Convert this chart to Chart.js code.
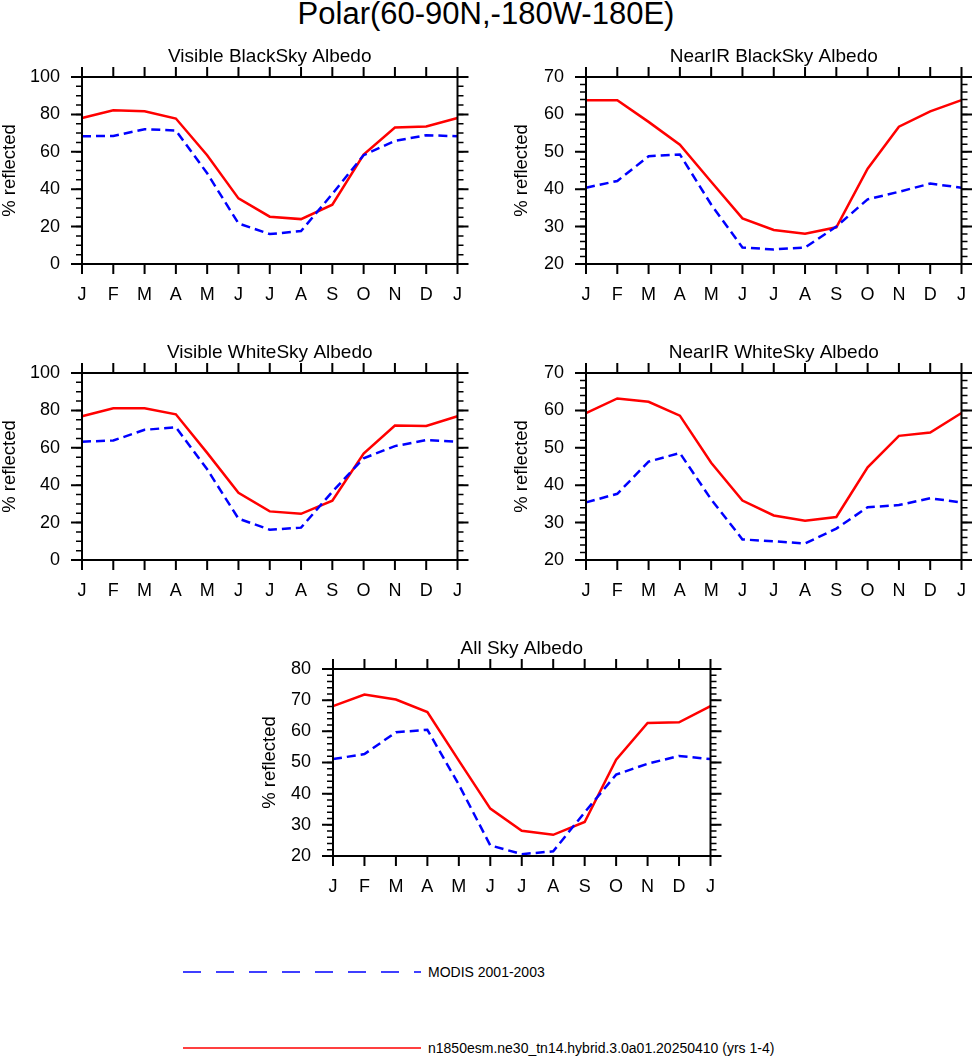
<!DOCTYPE html>
<html>
<head>
<meta charset="utf-8">
<script src="https://cdn.jsdelivr.net/npm/chart.js@4"></script>
<style>
  body { margin: 0; width: 972px; height: 1056px; background: #fff; overflow: hidden; position: relative; font-family: "Liberation Sans", Arial, sans-serif; }
  canvas { position: absolute; }
  .title { position: absolute; left: 0; top: 0; width: 972px; height: 28px; line-height: 28px; text-align: center; font-size: 31px; }
  .leg { position: absolute; left: 183px; font-size: 14px; height: 20px; line-height: 20px; }
  .leg svg { position: absolute; left: 0; top: 0; }
  .leg span { position: absolute; left: 245px; white-space: nowrap; }
</style>
</head>
<body>
<div class="title">Polar(60-90N,-180W-180E)</div>
<canvas id="c1"></canvas>
<canvas id="c2"></canvas>
<canvas id="c3"></canvas>
<canvas id="c4"></canvas>
<canvas id="c5"></canvas>
<div class="leg" style="top:962px">
  <svg width="240" height="20"><line x1="0" y1="10" x2="238" y2="10" stroke="#0000ff" stroke-width="1.5" stroke-dasharray="18,15"/></svg>
  <span>MODIS 2001-2003</span>
</div>
<div class="leg" style="top:1038px">
  <svg width="240" height="20"><line x1="0" y1="10" x2="238" y2="10" stroke="#ff0000" stroke-width="1.5"/></svg>
  <span>n1850esm.ne30_tn14.hybrid.3.0a01.20250410 (yrs 1-4)</span>
</div>
<script>
// months J..D plus January again to close the year
var months = ["J", "F", "M", "A", "M", "J", "J", "A", "S", "O", "N", "D", "J"];

// model (red) and MODIS (blue), % reflected
var visBlackModel = [78.1, 82.2, 81.7, 77.8, 58.2, 35.1, 25.3, 24.0, 31.7, 58.5, 73.0, 73.5, 78.1];
var visBlackObs   = [68.3, 68.5, 72.1, 71.4, 48.5, 21.7, 16.0, 17.6, 37.5, 58.2, 65.8, 68.9, 68.3];

var nirBlackModel = [63.8, 63.8, 58.0, 51.9, 42.0, 32.2, 29.1, 28.1, 29.8, 45.5, 56.7, 60.8, 63.8];
var nirBlackObs   = [40.4, 42.2, 48.8, 49.3, 35.9, 24.4, 23.9, 24.4, 30.0, 37.3, 39.3, 41.5, 40.4];

var visWhiteModel = [76.9, 81.1, 81.1, 77.9, 57.3, 35.9, 26.0, 24.7, 31.7, 56.9, 71.9, 71.7, 76.9];
var visWhiteObs   = [63.3, 63.9, 69.6, 71.0, 48.5, 22.1, 16.2, 17.3, 36.5, 54.4, 60.9, 64.1, 63.3];

var nirWhiteModel = [59.3, 63.2, 62.3, 58.6, 46.0, 35.9, 31.9, 30.5, 31.5, 44.8, 53.2, 54.1, 59.3];
var nirWhiteObs   = [35.4, 37.7, 46.3, 48.6, 36.2, 25.5, 25.0, 24.4, 28.4, 34.1, 34.7, 36.5, 35.4];

var allSkyModel = [68.1, 71.8, 70.2, 66.2, 50.6, 35.2, 28.1, 26.8, 30.9, 50.9, 62.7, 62.9, 68.1];
var allSkyObs   = [51.1, 52.7, 59.7, 60.5, 42.9, 23.4, 20.6, 21.5, 34.0, 46.1, 49.6, 52.1, 51.1];

// y ranges: [min, max, major step, minor step]
var range100 = [0, 100, 20, 5];
var range2070 = [20, 70, 10, 2];
var range2080 = [20, 80, 10, 2];

// frame with outward ticks on all four sides (NCL look)
var frameTicks = {
    id: 'frameTicks',
    afterDatasetsDraw: function (chart, args, opts) {
        var ctx = chart.ctx, a = chart.chartArea;
        var x = chart.scales.x, y = chart.scales.y;
        ctx.save();
        ctx.strokeStyle = '#000';
        ctx.lineCap = 'butt';
        // minor y ticks
        ctx.lineWidth = 1.5;
        ctx.beginPath();
        for (var v = y.min; v <= y.max + 1e-6; v += opts.minor) {
            var py = y.getPixelForValue(v);
            ctx.moveTo(a.left - 6, py); ctx.lineTo(a.left, py);
            ctx.moveTo(a.right, py); ctx.lineTo(a.right + 6, py);
        }
        ctx.stroke();
        // major ticks
        ctx.lineWidth = 2;
        ctx.beginPath();
        y.ticks.forEach(function (t) {
            var py = y.getPixelForValue(t.value);
            ctx.moveTo(a.left - 11, py); ctx.lineTo(a.left, py);
            ctx.moveTo(a.right, py); ctx.lineTo(a.right + 11, py);
        });
        months.forEach(function (m, i) {
            var px = x.getPixelForValue(i);
            ctx.moveTo(px, a.bottom); ctx.lineTo(px, a.bottom + 10);
            ctx.moveTo(px, a.top); ctx.lineTo(px, a.top - 10);
        });
        ctx.stroke();
        ctx.strokeRect(a.left, a.top, a.right - a.left, a.bottom - a.top);
        ctx.restore();
    }
};

function buildChart(el, w, h, title, range, titleGap, model, obs) {
    var yw = 82, bottom = 56;
    el.width = w; el.height = h;
    el.style.width = w + 'px'; el.style.height = h + 'px';
    return new Chart(el, {
        type: 'line',
        data: {
            labels: months,
            datasets: [{
                label: 'MODIS 2001-2003',
                data: obs,
                borderColor: '#0000ff',
                borderWidth: 2.5,
                borderDash: [9, 5],
                pointRadius: 0,
                tension: 0
            },
            {
                label: 'n1850esm.ne30_tn14.hybrid.3.0a01.20250410 (yrs 1-4)',
                data: model,
                borderColor: '#ff0000',
                borderWidth: 2.5,
                pointRadius: 0,
                tension: 0
            }]
        },
        options: {
            responsive: false,
            animation: false,
            layout: { padding: 0 },
            plugins: {
                legend: { display: false },
                tooltip: { enabled: false },
                title: {
                    display: true,
                    fullSize: false,   // centre over the plot, not the canvas
                    text: title,
                    color: '#000',
                    font: { family: 'Liberation Sans', size: 19, weight: 'normal' },
                    padding: { top: 5.6, bottom: 8.6 }
                },
                frameTicks: { minor: range[3] }
            },
            scales: {
                x: {
                    grid: { display: false, drawTicks: false },
                    border: { display: false },
                    ticks: {
                        color: '#000', padding: 20, maxRotation: 0, autoSkip: false,
                        font: { family: 'Liberation Sans', size: 18 }
                    },
                    afterFit: function (s) { s.height = bottom; }
                },
                y: {
                    min: range[0],
                    max: range[1],
                    grid: { display: false, drawTicks: false },
                    border: { display: false },
                    ticks: {
                        stepSize: range[2], color: '#000', padding: 22,
                        font: { family: 'Liberation Sans', size: 18 }
                    },
                    title: {
                        display: true,
                        text: '% reflected',
                        color: '#000',
                        font: { family: 'Liberation Sans', size: 18.5, lineHeight: 1 },
                        padding: { top: yw - titleGap - 9.25, bottom: 0 }
                    },
                    afterFit: function (s) { s.width = yw; }
                }
            }
        },
        plugins: [frameTicks]
    });
}

function makePanel(id, title, area, range, titleGap, model, obs) {
    var el = document.getElementById(id);
    var pw = area.r - area.l, ph = area.b - area.t;
    var w = Math.round(pw) + 82 + 25;
    var h = Math.round(ph) + 37 + 56;
    var chart = buildChart(el, w, h, title, range, titleGap, model, obs);
    // rebuild once if the plot area came out a little off
    var ca = chart.chartArea;
    var dw = Math.round(pw - (ca.right - ca.left));
    var dh = Math.round(ph - (ca.bottom - ca.top));
    if (dw !== 0 || dh !== 0) {
        chart.destroy();
        chart = buildChart(el, w + dw, h + dh, title, range, titleGap, model, obs);
        ca = chart.chartArea;
    }
    el.style.left = (area.l - ca.left) + 'px';
    el.style.top = (area.t - ca.top) + 'px';
}

makePanel('c1', 'Visible BlackSky Albedo', { l: 82, t: 77, r: 457, b: 264 }, range100, 72.5, visBlackModel, visBlackObs);
makePanel('c2', 'NearIR BlackSky Albedo', { l: 586, t: 77, r: 961, b: 264 }, range2070, 64.3, nirBlackModel, nirBlackObs);
makePanel('c3', 'Visible WhiteSky Albedo', { l: 82, t: 373, r: 457, b: 560 }, range100, 72.5, visWhiteModel, visWhiteObs);
makePanel('c4', 'NearIR WhiteSky Albedo', { l: 586, t: 373, r: 961, b: 560 }, range2070, 64.3, nirWhiteModel, nirWhiteObs);
makePanel('c5', 'All Sky Albedo', { l: 333, t: 669, r: 710, b: 856 }, range2080, 63.3, allSkyModel, allSkyObs);
</script>
</body>
</html>
